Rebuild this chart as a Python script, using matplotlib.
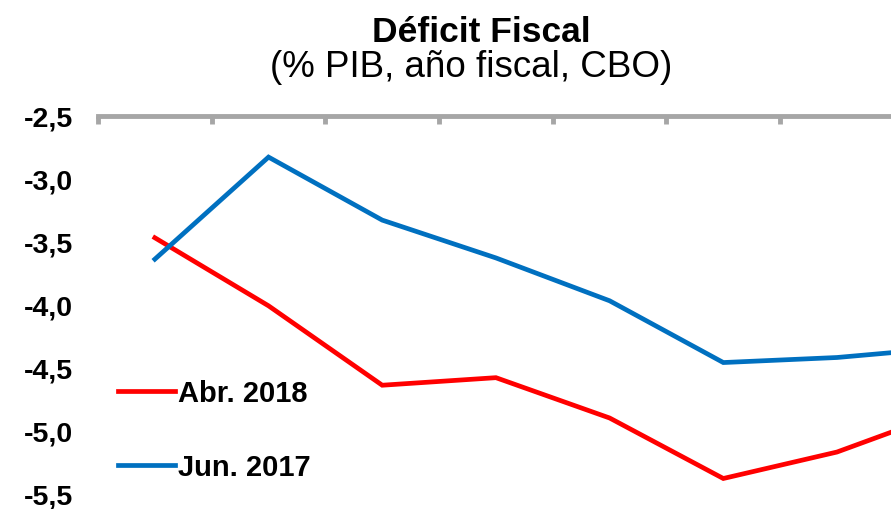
import matplotlib.pyplot as plt

plt.rcParams['font.family'] = ['Liberation Sans', 'DejaVu Sans']

# Data (% PIB)
periodos = [0, 1, 2, 3, 4, 5, 6, 7]
abr_2018 = [-3.47, -4.01, -4.64, -4.58, -4.90, -5.38, -5.17, -4.84]
jun_2017 = [-3.64, -2.83, -3.33, -3.63, -3.97, -4.46, -4.42, -4.34]
yticks = [-2.5, -3.0, -3.5, -4.0, -4.5, -5.0, -5.5]
ytick_labels = ['-2,5', '-3,0', '-3,5', '-4,0', '-4,5', '-5,0', '-5,5']

W, H = 891, 510
fig = plt.figure(figsize=(W / 100, H / 100), dpi=100)
ax = fig.add_axes([98 / W, 0, (W - 98) / W, (H - 116.5) / H])

ax.plot(periodos, abr_2018, color='#FF0000', lw=3.4, label='Abr. 2018', solid_joinstyle='miter')
ax.plot(periodos, jun_2017, color='#0070C0', lw=3.4, label='Jun. 2017', solid_joinstyle='miter')

# x axis on top, gray, ticks at category boundaries
for s in ['left', 'right', 'bottom']:
    ax.spines[s].set_visible(False)
ax.spines['top'].set_color('#A6A6A6')
ax.spines['top'].set_linewidth(3.5)
ax.xaxis.tick_top()
ax.set_xticks([i - 0.5 for i in range(9)])
ax.tick_params(axis='x', direction='in', length=6, width=3.5, color='#A6A6A6', labeltop=False)

ax.set_yticks(yticks)
ax.set_yticklabels(ytick_labels, fontsize=20.5, fontweight='bold')
ax.tick_params(axis='y', length=0, pad=18)

# limits after ticks so the view is not widened
ax.set_xlim(-0.5, 6.475)
ax.set_ylim(-5.622, -2.5)

leg = ax.legend(loc='upper left', bbox_to_anchor=(0.025, 0.33), frameon=False,
                handlelength=1.95, handletextpad=0.1, labelspacing=1.58, borderpad=0,
                prop={'size': 21, 'weight': 'bold'}, borderaxespad=0)

fig.text(481 / W, 1 - 42 / H, 'Déficit Fiscal', ha='center', va='baseline',
         fontsize=25.5, fontweight='bold')
fig.text(471 / W, 1 - 77 / H, '(% PIB, año fiscal, CBO)', ha='center', va='baseline',
         fontsize=26.5)

plt.savefig('out.png', dpi=100)
